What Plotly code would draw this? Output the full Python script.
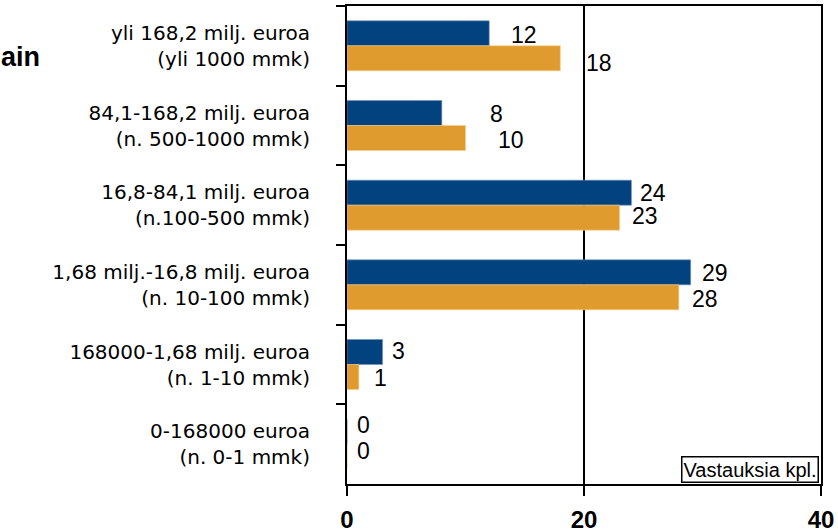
import plotly.graph_objects as go

# Turnover classes, top to bottom
categories = [
    "yli 168,2 milj. euroa<br>(yli 1000 mmk)",
    "84,1-168,2 milj. euroa<br>(n. 500-1000 mmk)",
    "16,8-84,1 milj. euroa<br>(n.100-500 mmk)",
    "1,68 milj.-16,8 milj. euroa<br>(n. 10-100 mmk)",
    "168000-1,68 milj. euroa<br>(n. 1-10 mmk)",
    "0-168000 euroa<br>(n. 0-1 mmk)",
]
series_a = [12, 8, 24, 29, 3, 0]
series_b = [18, 10, 23, 28, 1, 0]
x_ticks = [0, 20, 40]

BLUE = "#02437F"
ORANGE = "#E09B2E"

# label placement tweaks (pixels): gap after bar end, downward nudge
gap_a = [20, 46, 7, 9, 7, 8]
gap_b = [24, 30, 10, 11, 13, 8]
down_a = [1.5, 1, 0.5, 1, -1, -7]
down_b = [5, 2, -1.5, 1.5, 0.5, -6]
HALF_BAR = 12.5

fig = go.Figure()
fig.add_trace(go.Bar(y=categories, x=series_a, orientation="h",
                     marker=dict(color=BLUE, line=dict(color="#6F8FB8", width=0.6)),
                     showlegend=False))
fig.add_trace(go.Bar(y=categories, x=series_b, orientation="h",
                     marker=dict(color=ORANGE, line=dict(color="#F2CC8A", width=0.6)),
                     showlegend=False))

label_font = dict(family="Liberation Sans, Arial, sans-serif", size=23, color="black")
annotations = []
for cat, v, g, d in zip(categories, series_a, gap_a, down_a):
    annotations.append(dict(x=v, y=cat, xref="x", yref="y", text=str(v),
                            showarrow=False, xanchor="left", yanchor="middle",
                            xshift=g, yshift=HALF_BAR - d, font=label_font))
for cat, v, g, d in zip(categories, series_b, gap_b, down_b):
    annotations.append(dict(x=v, y=cat, xref="x", yref="y", text=str(v),
                            showarrow=False, xanchor="left", yanchor="middle",
                            xshift=g, yshift=-HALF_BAR - d, font=label_font))

annotations.append(dict(x=0, y=0.893, xref="paper", yref="paper", text="<b>ain</b>",
                        showarrow=False, xanchor="right", yanchor="middle", xshift=-305,
                        font=dict(family="Liberation Sans, Arial, sans-serif", size=27,
                                  color="black")))
annotations.append(dict(x=1, y=0, xref="paper", yref="paper", text="Vastauksia kpl.",
                        showarrow=False, xanchor="right", yanchor="bottom",
                        xshift=-2, yshift=1, bordercolor="black", borderwidth=1.5,
                        borderpad=1, bgcolor="white",
                        font=dict(family="Liberation Sans, Arial, sans-serif", size=20,
                                  color="black")))

fig.update_layout(
    width=838, height=532,
    margin=dict(l=347, r=17, t=6, b=48),
    paper_bgcolor="white", plot_bgcolor="white",
    barmode="group", bargap=0.373, bargroupgap=0,
    annotations=annotations,
)
fig.update_xaxes(
    range=[0, 40], tickvals=x_ticks, ticks="outside", ticklen=10, tickwidth=1.5,
    tickcolor="black", showline=True, linecolor="black", linewidth=2, mirror=True,
    showgrid=True, gridcolor="black", gridwidth=1.5, zeroline=False,
    tickfont=dict(family="Liberation Sans, Arial, sans-serif", size=24, color="black",
                  weight="bold"),
    ticklabelstandoff=3, automargin=False,
)
fig.update_yaxes(
    autorange="reversed", tickson="boundaries", ticks="outside", ticklen=9,
    tickwidth=1.5, tickcolor="black", showline=True, linecolor="black", linewidth=2,
    mirror=True, showgrid=False, zeroline=False,
    tickfont=dict(family="DejaVu Sans, sans-serif", size=20, color="black"),
    ticklabelstandoff=31, automargin=False,
)

fig.write_html("out.html")
